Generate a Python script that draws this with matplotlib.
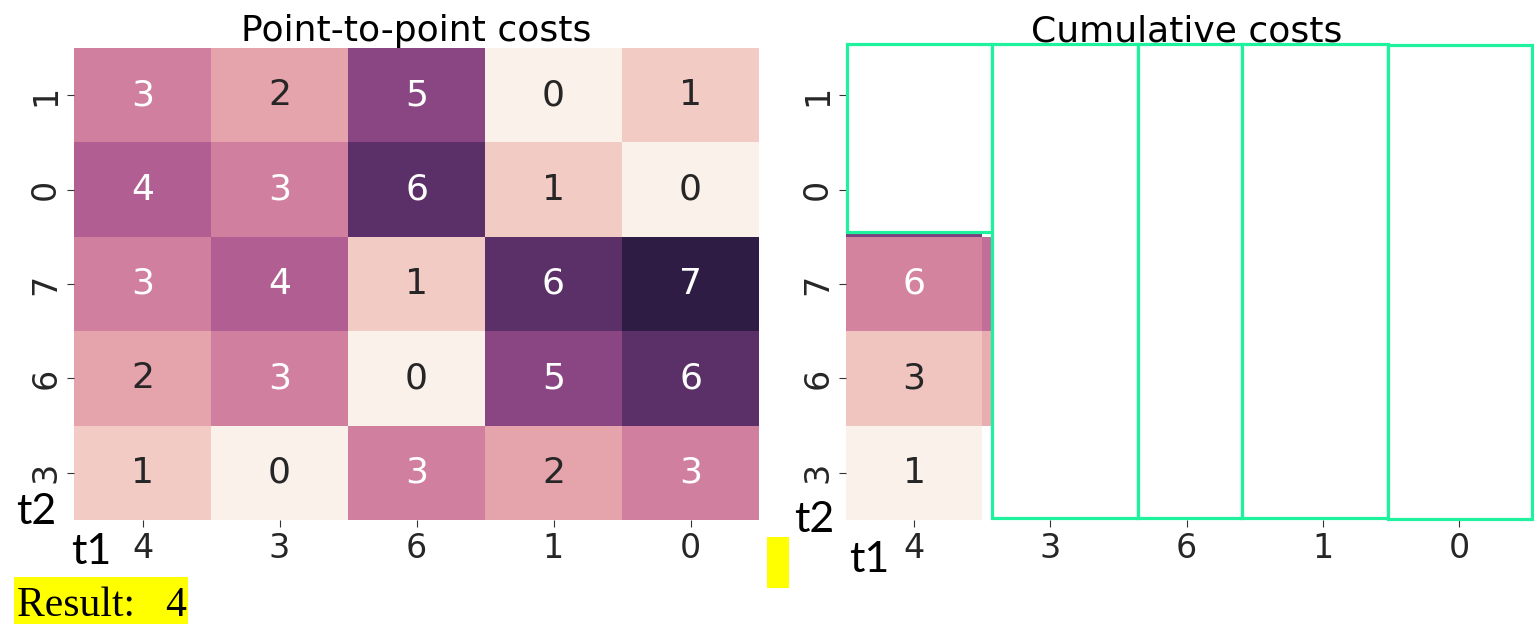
import numpy as np
import pandas as pd
import seaborn as sns
import matplotlib.pyplot as plt
from matplotlib.patches import Rectangle

# sequences (t1 along x, t2 along y from top to bottom as shown)
t1 = ['4', '3', '6', '1', '0']
t2 = ['1', '0', '7', '6', '3']

# point-to-point costs, rows top to bottom
costs = [[3, 2, 5, 0, 1],
         [4, 3, 6, 1, 0],
         [3, 4, 1, 6, 7],
         [2, 3, 0, 5, 6],
         [1, 0, 3, 2, 3]]

# cumulative costs filled in so far (rest still empty)
nan = np.nan
cumulative = [[nan, nan, nan, nan, nan],
              [10, nan, nan, nan, nan],
              [6, 7, nan, nan, nan],
              [3, 4, nan, nan, nan],
              [1, nan, nan, nan, nan]]
cum_range = (1, 13)
result = 4

W, H = 1534, 624
def px(x, y):
    return x / W, 1 - y / H

plt.rcParams['font.family'] = 'DejaVu Sans'
fig = plt.figure(figsize=(W / 100, H / 100), dpi=100)
ax1 = fig.add_axes([74 / W, 1 - 520 / H, 685 / W, 472 / H])
ax2 = fig.add_axes([846 / W, 1 - 520 / H, 681 / W, 472 / H])

cmap = sns.cubehelix_palette(light=0.95, dark=0.15, hue=1.0, as_cmap=True)

df1 = pd.DataFrame(costs, index=t2, columns=t1)
sns.heatmap(df1, ax=ax1, cmap=cmap, annot=True, cbar=False,
            annot_kws={'size': 26})
ax1.set_title('Point-to-point costs', fontsize=26, pad=4)

df2 = pd.DataFrame(cumulative, index=t2, columns=t1)
sns.heatmap(df2, ax=ax2, cmap=cmap, annot=True, cbar=False,
            vmin=cum_range[0], vmax=cum_range[1], annot_kws={'size': 26})
ax2.set_title('Cumulative costs', fontsize=26, pad=2)

for ax in (ax1, ax2):
    ax.set_xlabel('')
    ax.set_ylabel('')
    ax.tick_params(labelsize=24, length=5, color='#333333', labelcolor='#262626')
    plt.setp(ax.get_yticklabels(), rotation=90, va='center')
    plt.setp(ax.get_xticklabels(), rotation=0)

# white boxes hiding the cells not computed yet
boxes = [(847, 44, 992, 232), (992, 44, 1138, 518), (1138, 44, 1242, 518),
         (1242, 44, 1388, 518), (1388, 45, 1532, 519)]
for x0, y0, x1, y1 in boxes:
    fig.add_artist(Rectangle(px(x0, y1), (x1 - x0) / W, (y1 - y0) / H,
                             transform=fig.transFigure, facecolor='white',
                             edgecolor='#1ef29c', linewidth=2.3, zorder=5))

# axis names
lab = dict(fontsize=31, family='Lato', color='black', va='baseline', ha='left')
fig.text(*px(16, 524), 't2', **lab)
fig.text(*px(71, 564), 't1', **lab)
fig.text(*px(794, 532), 't2', **lab)
fig.text(*px(849, 572), 't1', **lab)

# result box
fig.add_artist(Rectangle(px(14, 624), 174 / W, 47 / H, transform=fig.transFigure,
                         facecolor='yellow', edgecolor='none', zorder=5))
fig.text(*px(17, 616), f'Result:   {result}', fontsize=30, family='Liberation Serif',
         va='baseline', ha='left', zorder=6)
fig.add_artist(Rectangle(px(767, 588), 22 / W, 51 / H, transform=fig.transFigure,
                         facecolor='yellow', edgecolor='none', zorder=5))

fig.savefig('out.png', dpi=100)
